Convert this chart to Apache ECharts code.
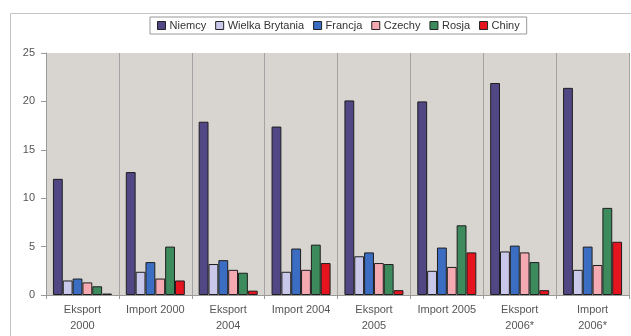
<!DOCTYPE html>
<html>
<head>
<meta charset="utf-8">
<script src="https://cdn.jsdelivr.net/npm/echarts@6/dist/echarts.min.js"></script>
<style>
  html, body { margin: 0; padding: 0; background: #fff; }
  #chart { width: 631px; height: 336px; }
</style>
</head>
<body>
<div id="chart"></div>
<script>
// Trade categories along the x axis
const categories = ['Eksport\n2000', 'Import 2000', 'Eksport\n2004', 'Import 2004',
                    'Eksport\n2005', 'Import 2005', 'Eksport\n2006*', 'Import\n2006*'];

// Values per partner country
const niemcy        = [12.0, 12.7, 17.9, 17.4, 20.1, 20.0, 21.9, 21.4];
const wielkaBryt    = [1.5, 2.4, 3.2, 2.4, 4.0, 2.5, 4.5, 2.6];
const francja       = [1.7, 3.4, 3.6, 4.8, 4.4, 4.9, 5.1, 5.0];
const czechy        = [1.3, 1.7, 2.6, 2.6, 3.3, 2.9, 4.4, 3.1];
const rosja         = [0.9, 5.0, 2.3, 5.2, 3.2, 7.2, 3.4, 9.0];
const chiny         = [0.15, 1.5, 0.45, 3.3, 0.5, 4.4, 0.5, 5.5];

const yTicks = [0, 5, 10, 15, 20, 25];

const seriesDefs = [
  { name: 'Niemcy', data: niemcy, color: '#514785' },
  { name: 'Wielka Brytania', data: wielkaBryt, color: '#c9c8ea' },
  { name: 'Francja', data: francja, color: '#3b6ec2' },
  { name: 'Czechy', data: czechy, color: '#f5aab2' },
  { name: 'Rosja', data: rosja, color: '#3d8b5c' },
  { name: 'Chiny', data: chiny, color: '#e5141f' }
];

const textColor = '#555';
const fontFamily = '"Liberation Sans", Arial, sans-serif';

const chart = echarts.init(document.getElementById('chart'), null, { renderer: 'canvas' });

chart.setOption({
  animation: false,
  textStyle: { fontFamily: fontFamily },
  graphic: [{
    type: 'rect',
    shape: { x: 10.5, y: 13.5, width: 640, height: 340 },
    style: { fill: 'none', stroke: '#c4c4c4', lineWidth: 1 },
    z: -10
  }],
  legend: {
    left: 150,
    top: 17,
    padding: [3, 7, 3, 7],
    itemWidth: 8,
    itemHeight: 8,
    itemGap: 9,
    icon: 'rect',
    backgroundColor: '#fff',
    borderColor: '#999',
    borderWidth: 1,
    textStyle: { fontSize: 11, color: '#333', fontFamily: fontFamily, padding: [0, 0, 0, -1] },
    itemStyle: { borderColor: '#222', borderWidth: 1 },
    data: seriesDefs.map(s => s.name)
  },
  grid: {
    left: 46, right: 2, top: 53, bottom: 41,
    show: true,
    backgroundColor: '#d8d5d1',
    borderWidth: 0
  },
  xAxis: {
    type: 'category',
    data: categories,
    boundaryGap: true,
    axisLine: { lineStyle: { color: '#9a9a9a', width: 1 } },
    axisTick: { show: true, length: 4, lineStyle: { color: '#9a9a9a' } },
    splitLine: { show: true, lineStyle: { color: '#a3a3a3', width: 1 } },
    axisLabel: {
      color: textColor, fontSize: 11, lineHeight: 16, margin: 7,
      interval: 0, fontFamily: fontFamily
    }
  },
  yAxis: {
    type: 'value',
    min: yTicks[0],
    max: yTicks[yTicks.length - 1],
    interval: 5,
    axisLine: { show: true, lineStyle: { color: '#9a9a9a' } },
    axisTick: { show: true, length: 5, lineStyle: { color: '#9a9a9a' } },
    splitLine: { show: false },
    axisLabel: { color: textColor, fontSize: 11, margin: 11, fontFamily: fontFamily }
  },
  series: seriesDefs.map(s => ({
    name: s.name,
    type: 'bar',
    data: s.data,
    barGap: '0%',
    barCategoryGap: '19%',
    itemStyle: { color: s.color, borderColor: '#1e1e1e', borderWidth: 1 }
  }))
});
</script>
</body>
</html>
